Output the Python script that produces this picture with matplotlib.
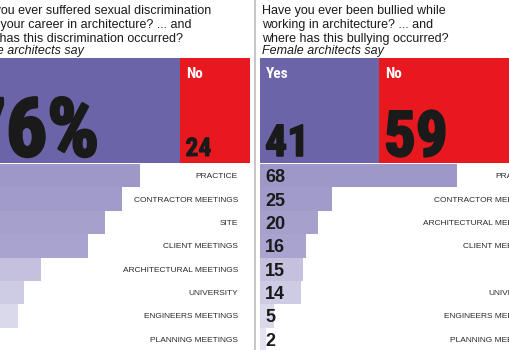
import matplotlib.pyplot as plt
import matplotlib.patheffects as pe
from matplotlib.lines import Line2D

# left panel - sexual discrimination
disc_yes = 76
disc_no = 24
disc_places = ['PRACTICE', 'CONTRACTOR MEETINGS', 'SITE', 'CLIENT MEETINGS',
               'ARCHITECTURAL MEETINGS', 'UNIVERSITY', 'ENGINEERS MEETINGS',
               'PLANNING MEETINGS']
disc_values = [62, 56, 50, 44, 28, 22, 20, 10]
disc_title = ['Have you ever suffered sexual discrimination',
              'during your career in architecture? ... and',
              'where has this discrimination occurred?']

# right panel - bullying
bully_yes = 41
bully_no = 59
bully_places = ['PRACTICE', 'CONTRACTOR MEETINGS', 'ARCHITECTURAL MEETINGS',
                'CLIENT MEETINGS', 'SITE', 'UNIVERSITY', 'ENGINEERS MEETINGS',
                'PLANNING MEETINGS']
bully_values = [68, 25, 20, 16, 15, 14, 5, 2]
bully_title = ['Have you ever been bullied while',
               'working in architecture? ... and',
               'where has this bullying occurred?']

subtitle = 'Female architects say'

PURPLE = '#6c64a8'
RED = '#e8191e'
INK = '#1a1a1a'
row_colors = ['#9e98c8', '#a19bca', '#a5a0cc', '#a9a4cf',
              '#c4c0de', '#cecbe4', '#dad8eb', '#e4e2f0']
BIG_FONT = ['Roboto Condensed', 'Liberation Sans Narrow', 'Liberation Sans']
NUM_FONT = ['Liberation Sans', 'DejaVu Sans']
TXT_FONT = ['Liberation Sans', 'DejaVu Sans']

W, H = 510, 350
fig = plt.figure(figsize=(W / 100, H / 100), dpi=100)
fig.patch.set_facecolor('white')


def big_number(ax, txt, x, size):
    # heavy condensed figures, thickened a little with a stroke
    ax.annotate(txt, (x, -0.5), xytext=(5, 7), textcoords='offset pixels',
                fontsize=size, fontweight='bold', family=BIG_FONT,
                color=INK, va='baseline', ha='left',
                path_effects=[pe.withStroke(linewidth=size * 0.035, foreground=INK)])


def draw_panel(x0, title, yes, no, yes_label, places, values):
    pw = 290
    # yes / no block
    ax = fig.add_axes([x0 / W, (H - 163) / H, pw / W, 105 / H])
    ax.barh([0], [yes], height=1, color=PURPLE, left=0)
    ax.barh([0], [no], height=1, color=RED, left=yes)
    ax.set_xlim(0, 100)
    ax.set_ylim(-0.5, 0.5)
    ax.axis('off')

    for txt, xs in [('Yes', 0), ('No', yes)]:
        ax.annotate(txt, (xs, 0.5), xytext=(6, -20), textcoords='offset pixels',
                    color='white', fontsize=11, fontweight='bold',
                    family=BIG_FONT, va='baseline', ha='left')
    big_number(ax, yes_label, 0, yes * 0.77)
    big_number(ax, str(no), yes, no * 0.77)

    # title
    for i, line in enumerate(title):
        ax.annotate(line, (0, 1), xycoords='axes fraction',
                    xytext=(2, 44 - 14 * i), textcoords='offset pixels',
                    fontsize=9, family=TXT_FONT, color=INK,
                    va='baseline', ha='left', annotation_clip=False)
    ax.annotate(subtitle, (0, 1), xycoords='axes fraction',
                xytext=(2, 4), textcoords='offset pixels',
                fontsize=9, family=TXT_FONT, style='italic', color=INK,
                va='baseline', ha='left', annotation_clip=False)

    # where it happened
    ax2 = fig.add_axes([x0 / W, (H - 351) / H, pw / W, 187 / H])
    rows = list(range(len(places)))
    ax2.barh(rows, values, height=1, color=row_colors)
    ax2.set_xlim(0, 100)
    ax2.set_ylim(len(places) - 0.5, -0.5)
    ax2.axis('off')
    for r, v, p in zip(rows, values, places):
        ax2.annotate(str(v), (0, r), xytext=(5, 0), textcoords='offset pixels',
                     fontsize=13, fontweight='bold', family=NUM_FONT,
                     color=INK, va='center_baseline', ha='left')
        ax2.annotate(p, (100, r), xytext=(-12, 0), textcoords='offset pixels',
                     fontsize=6, family=TXT_FONT, color='#2a2a2a',
                     va='center_baseline', ha='right', annotation_clip=False)


draw_panel(-40, disc_title, disc_yes, disc_no, f'{disc_yes}%', disc_places, disc_values)
draw_panel(260, bully_title, bully_yes, bully_no, str(bully_yes), bully_places, bully_values)

# divider between the two panels
fig.add_artist(Line2D([255 / W, 255 / W], [0, 1], color='#bdbdbd', lw=1.2))

fig.savefig('out.png', dpi=100)
